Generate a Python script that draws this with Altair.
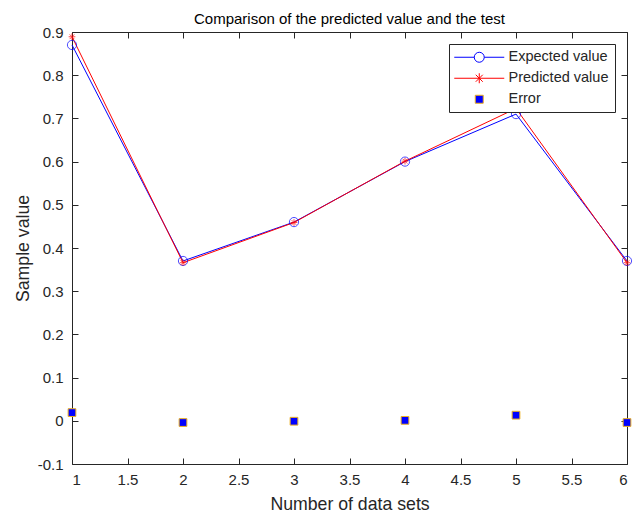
import altair as alt
import pandas as pd

x_vals = [1, 2, 3, 4, 5, 6]
expected = [0.870, 0.370, 0.460, 0.600, 0.710, 0.370]
predicted = [0.889, 0.366, 0.459, 0.601, 0.723, 0.366]
error = [0.019, -0.004, -0.001, 0.001, 0.013, -0.004]
series = ["Expected value", "Predicted value", "Error"]
x_ticks = [1, 1.5, 2, 2.5, 3, 3.5, 4, 4.5, 5, 5.5, 6]
y_ticks = [-0.1, 0, 0.1, 0.2, 0.3, 0.4, 0.5, 0.6, 0.7, 0.8, 0.9]

df = pd.DataFrame({"x": x_vals, "expected": expected, "predicted": predicted, "error": error})
leg_df = pd.DataFrame({"series": series})

FONT = "Liberation Sans"
TXT = "#262626"
ASTER = "M0,-1L0,1M-1,0L1,0M-0.7,-0.7L0.7,0.7M-0.7,0.7L0.7,-0.7"
LBL = "datum.value < 0 ? '-' + format(-datum.value, '~g') : format(datum.value, '~g')"

xs = alt.Scale(domain=[1, 6], nice=False, zero=False)
ys = alt.Scale(domain=[-0.1, 0.9], nice=False, zero=False)

axis_common = dict(grid=False, domain=False, tickSize=6, offset=-6, tickColor=TXT,
                   labelColor=TXT, labelFont=FONT, labelFontSize=15, titleFont=FONT,
                   titleFontSize=17.7, titleColor=TXT, titleFontWeight="normal", labelExpr=LBL)

x_axis = alt.Axis(values=x_ticks, title="Number of data sets", labelPadding=8,
                  titlePadding=8, **axis_common)
y_axis = alt.Axis(values=y_ticks, title="Sample value", labelPadding=9,
                  titlePadding=5, **axis_common)

base = alt.Chart(df)

exp_line = base.mark_line(color="#0000FF", strokeWidth=1).encode(
    x=alt.X("x:Q", scale=xs, axis=x_axis),
    y=alt.Y("expected:Q", scale=ys, axis=y_axis),
)
exp_pts = base.mark_point(shape="circle", color="#0000FF", size=85, strokeWidth=1, filled=False).encode(
    x=alt.X("x:Q", scale=xs, axis=None),
    y=alt.Y("expected:Q", scale=ys, axis=None),
)
pred_line = base.mark_line(color="#FF0000", strokeWidth=1).encode(
    x=alt.X("x:Q", scale=xs, axis=None),
    y=alt.Y("predicted:Q", scale=ys, axis=None),
)
pred_pts = base.mark_point(shape=ASTER, color="#FF0000", size=45, strokeWidth=1, filled=False).encode(
    x=alt.X("x:Q", scale=xs, axis=None),
    y=alt.Y("predicted:Q", scale=ys, axis=None),
)
err_pts = base.mark_point(shape="square", fill="#0000FF", stroke="#EDB120", size=60,
                          strokeWidth=1, filled=True, opacity=1).encode(
    x=alt.X("x:Q", scale=xs, axis=None),
    y=alt.Y("error:Q", scale=ys, axis=None),
)

frame_axis = dict(grid=False, domain=False, tickSize=6, offset=-6, tickColor=TXT, labels=False, title=None)
frame = base.mark_point(opacity=0).encode(
    x=alt.X("x:Q", scale=xs, axis=alt.Axis(orient="top", values=x_ticks, **frame_axis)),
    y=alt.Y("expected:Q", scale=ys, axis=alt.Axis(orient="right", values=y_ticks, **frame_axis)),
)

leg_shapes = [
    "M-5,0L-1,0M1,0L5,0M1,0A1,1 0 1 1 -1,0A1,1 0 1 1 1,0",
    "M-5,0L5,0M0,-1L0,1M-0.7,-0.7L0.7,0.7M-0.7,0.7L0.7,-0.7",
    "M-0.8,-0.8L0.8,-0.8L0.8,0.8L-0.8,0.8Z",
]
legend = alt.Legend(title=None, orient="top-right", offset=12, strokeColor=TXT, fillColor="white",
                    padding=6, symbolSize=100, symbolStrokeWidth=1, symbolOffset=17, labelOffset=22,
                    labelFont=FONT, labelFontSize=14.5, labelColor=TXT, rowPadding=5, symbolOpacity=1)
leg_layer = alt.Chart(leg_df).mark_point(strokeWidth=1).encode(
    shape=alt.Shape("series:N", scale=alt.Scale(domain=series, range=leg_shapes), legend=legend),
    stroke=alt.Stroke("series:N", scale=alt.Scale(domain=series, range=["#0000FF", "#FF0000", "#EDB120"]), legend=legend),
    fill=alt.Fill("series:N", scale=alt.Scale(domain=series, range=["white", "white", "#0000FF"]), legend=legend),
).transform_filter("datum.series == 'none'")

chart = alt.layer(exp_line, pred_line, exp_pts, pred_pts, err_pts, frame, leg_layer).resolve_axis(
    x="independent", y="independent"
).properties(
    width=555, height=432,
    padding={"left": 72, "top": 32, "right": 10, "bottom": 50},
    autosize=alt.AutoSizeParams(type="none"),
    background="white",
    title=alt.Title("Comparison of the predicted value and the test", font=FONT, fontSize=15,
                    fontWeight="normal", color="#000000", offset=-2),
).configure_view(stroke=TXT, strokeWidth=1)

chart.save("out.html", embed_options={"renderer": "svg", "actions": False})
